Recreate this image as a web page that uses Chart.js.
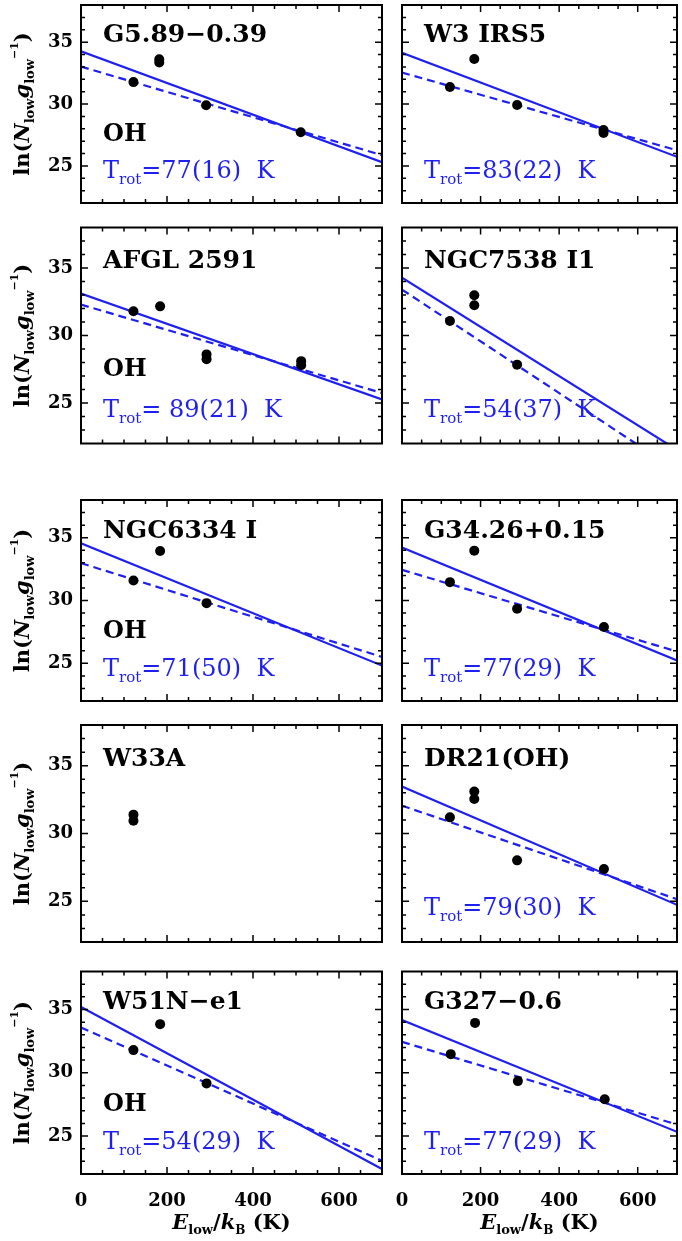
<!DOCTYPE html>
<html>
<head>
<meta charset="utf-8">
<script src="https://cdn.jsdelivr.net/npm/chart.js@4.4.1/dist/chart.umd.min.js"></script>
<style>
  html, body { margin: 0; padding: 0; background: #fff; }
  #wrap { position: relative; width: 682px; height: 1241px; overflow: hidden; }
  #wrap canvas { position: absolute; }
</style>
</head>
<body>
<div id="wrap"></div>
<script>
// sources in reading order (left, right; top to bottom)
const sources = ['G5.89\u22120.39', 'W3 IRS5', 'AFGL 2591', 'NGC7538 I1', 'NGC6334 I',
                 'G34.26+0.15', 'W33A', 'DR21(OH)', 'W51N\u2212e1', 'G327\u22120.6'];
const showOH = [true, false, true, false, true, false, false, false, true, false];
const trot = ['77(16)', '83(22)', ' 89(21)', '54(37)', '71(50)', '77(29)', null, '79(30)', '54(29)', '77(29)'];

// measured points: E_low/k_B (K) and ln(N_low g_low^-1)
const eLow = [
  [122, 182, 182, 291, 511],
  [122, 184, 293, 513, 513],
  [122, 184, 292, 292, 512, 512],
  [122, 184, 184, 293],
  [122, 184, 292],
  [122, 184, 293, 514],
  [122, 122],
  [122, 184, 184, 293, 514],
  [122, 184, 292],
  [124, 186, 295, 516]
];
const lnNg = [
  [31.77, 33.62, 33.35, 29.9, 27.72],
  [31.37, 33.63, 29.92, 27.9, 27.65],
  [31.79, 32.16, 28.6, 28.25, 28.1, 27.8],
  [31.07, 32.98, 32.24, 27.84],
  [31.59, 33.94, 29.79],
  [31.46, 33.97, 29.34, 27.89],
  [31.39, 30.94],
  [31.19, 33.1, 32.54, 28.02, 27.38],
  [31.79, 33.84, 29.16],
  [31.47, 33.94, 29.34, 27.9]
];
// rotation-diagram fits, values at E = 0 and E = 700 K
const fitE = [0, 700];
const fitSolid = [[34.26, 25.29], [34.13, 25.73], [33.1, 25.27], [34.29, 21.53], [34.56, 24.82],
                  [34.21, 25.23], null, [33.47, 24.74], [35.2, 22.4], [34.16, 25.33]];
const fitDashed = [[33.02, 25.87], [32.54, 26.26], [32.29, 25.74], [33.4, 19.99], [32.97, 25.51],
                   [32.44, 25.94], null, [32.05, 25.16], [33.58, 23.05], [32.44, 25.91]];

const xTicks = [0, 200, 400, 600];
const yTicks = [25, 30, 35];

// panel geometry (px)
const rowTop = [1.5, 227.5, 500, 725, 971.5];
const rowBot = [203, 443.5, 701, 942, 1174];
const colLeft = [81, 402];
const colRight = [382, 681];

const BLUE = '#1f1ff0';
const SERIF = '"DejaVu Serif", "Liberation Serif", serif';

function drawRich(ctx, segs, x, y, align) {
  let w = 0;
  segs.forEach(s => { ctx.font = s.f; w += ctx.measureText(s.t).width; });
  let cx = align === 'center' ? x - w / 2 : x;
  segs.forEach(s => {
    ctx.font = s.f;
    ctx.fillText(s.t, cx, y + (s.dy || 0));
    cx += ctx.measureText(s.t).width;
  });
}

// no extra layout padding for overhanging tick labels
function noPad(s) {
  s.paddingTop = 0; s.paddingBottom = 0; s.paddingLeft = 0; s.paddingRight = 0;
}

const idlFrame = {
  id: 'idlFrame',
  afterDraw(chart, args, opts) {
    const { ctx, chartArea: a, scales: { x, y } } = chart;
    const i = opts.idx;
    ctx.save();
    ctx.strokeStyle = '#000';
    ctx.lineWidth = 1.5;
    ctx.beginPath();
    for (let v = 50; v < 700; v += 50) {
      const px = x.getPixelForValue(v), len = v % 200 === 0 ? 7 : 4;
      ctx.moveTo(px, a.bottom); ctx.lineTo(px, a.bottom - len);
      ctx.moveTo(px, a.top); ctx.lineTo(px, a.top + len);
    }
    for (let v = 23; v < 38; v++) {
      const py = y.getPixelForValue(v), len = v % 5 === 0 ? 7 : 4;
      ctx.moveTo(a.left, py); ctx.lineTo(a.left + len, py);
      ctx.moveTo(a.right, py); ctx.lineTo(a.right - len, py);
    }
    ctx.stroke();
    ctx.lineWidth = 2;
    ctx.strokeRect(a.left, a.top, a.right - a.left, a.bottom - a.top);

    ctx.textAlign = 'left';
    ctx.textBaseline = 'alphabetic';
    ctx.fillStyle = '#000';
    const tx = a.left + 22;
    ctx.font = 'bold 25px ' + SERIF;
    ctx.fillText(sources[i], tx, y.getPixelForValue(35));
    if (showOH[i]) {
      ctx.font = 'bold 24px ' + SERIF;
      ctx.fillText('OH', tx, y.getPixelForValue(27));
    }
    if (trot[i]) {
      ctx.fillStyle = BLUE;
      drawRich(ctx, [
        { t: 'T', f: '24px ' + SERIF },
        { t: 'rot', f: '15px ' + SERIF, dy: 6 },
        { t: '=' + trot[i] + '  K', f: '24px ' + SERIF }
      ], tx, y.getPixelForValue(24), 'left');
    }
    ctx.fillStyle = '#000';
    if (opts.left) {
      ctx.save();
      ctx.translate(22, (a.top + a.bottom) / 2);
      ctx.rotate(-Math.PI / 2);
      drawRich(ctx, [
        { t: 'ln(', f: 'bold 21px ' + SERIF },
        { t: 'N', f: 'italic bold 21px ' + SERIF },
        { t: 'low', f: 'bold 13px ' + SERIF, dy: 5 },
        { t: 'g', f: 'italic bold 21px ' + SERIF },
        { t: 'low', f: 'bold 13px ' + SERIF, dy: 5 },
        { t: '\u22121', f: 'bold 11px ' + SERIF, dy: -11 },
        { t: ')', f: 'bold 21px ' + SERIF }
      ], 0, 7, 'center');
      ctx.restore();
    }
    if (opts.bottom) {
      drawRich(ctx, [
        { t: 'E', f: 'italic bold 21px ' + SERIF },
        { t: 'low', f: 'bold 13px ' + SERIF, dy: 5 },
        { t: '/', f: 'bold 21px ' + SERIF },
        { t: 'k', f: 'italic bold 21px ' + SERIF },
        { t: 'B', f: 'bold 12px ' + SERIF, dy: 5 },
        { t: ' (K)', f: 'bold 21px ' + SERIF }
      ], (a.left + a.right) / 2, a.bottom + 55, 'center');
    }
    ctx.restore();
  }
};

const wrap = document.getElementById('wrap');

sources.forEach((name, i) => {
  const row = Math.floor(i / 2), col = i % 2;
  const isLeft = col === 0, isBottom = row === 4;
  const cx0 = isLeft ? 0 : 384;
  const cw = isLeft ? 392 : 682 - cx0;
  const cy0 = Math.max(0, Math.floor(rowTop[row] - 12));
  const cy1 = isBottom ? 1241 : Math.ceil(rowBot[row] + 12);
  const ch = cy1 - cy0;

  const canvas = document.createElement('canvas');
  canvas.width = cw; canvas.height = ch;
  canvas.style.left = cx0 + 'px'; canvas.style.top = cy0 + 'px';
  canvas.style.width = cw + 'px'; canvas.style.height = ch + 'px';
  wrap.appendChild(canvas);

  const pts = eLow[i].map((e, k) => ({ x: e, y: lnNg[i][k] }));
  const datasets = [{
    data: pts, pointRadius: 5, pointHoverRadius: 5, pointBorderWidth: 0,
    backgroundColor: '#000', borderColor: '#000', order: 0
  }];
  if (fitSolid[i]) {
    datasets.push({
      data: fitE.map((e, k) => ({ x: e, y: fitSolid[i][k] })), showLine: true,
      borderColor: BLUE, borderWidth: 2.2, pointRadius: 0, order: 1
    });
    datasets.push({
      data: fitE.map((e, k) => ({ x: e, y: fitDashed[i][k] })), showLine: true,
      borderColor: BLUE, borderWidth: 2.2, borderDash: [8, 5], pointRadius: 0, order: 2
    });
  }

  const tickFont = { family: SERIF, size: 18, weight: 'bold' };
  new Chart(canvas, {
    type: 'scatter',
    data: { datasets },
    options: {
      responsive: false,
      animation: false,
      events: [],
      devicePixelRatio: 1,
      layout: {
        padding: {
          left: isLeft ? 0 : colLeft[1] - cx0,
          right: cx0 + cw - colRight[col],
          top: rowTop[row] - cy0,
          bottom: isBottom ? 0 : cy1 - rowBot[row]
        }
      },
      plugins: {
        legend: { display: false },
        tooltip: { enabled: false },
        idlFrame: { idx: i, left: isLeft, bottom: isBottom }
      },
      scales: {
        x: {
          type: 'linear', min: 0, max: 700,
          display: isBottom,
          grid: { display: false, drawTicks: false },
          border: { display: false },
          afterBuildTicks: s => { s.ticks = xTicks.map(v => ({ value: v })); },
          afterFit: s => { noPad(s); if (isBottom) s.height = cy1 - rowBot[row]; },
          ticks: { font: tickFont, color: '#000', padding: 17, maxRotation: 0, callback: v => String(v) }
        },
        y: {
          type: 'linear', min: 22, max: 38,
          display: isLeft,
          grid: { display: false, drawTicks: false },
          border: { display: false },
          afterBuildTicks: s => { s.ticks = yTicks.map(v => ({ value: v })); },
          afterFit: s => { noPad(s); if (isLeft) s.width = colLeft[0] - cx0; },
          ticks: { font: tickFont, color: '#000', padding: 8, callback: v => String(v) }
        }
      }
    },
    plugins: [idlFrame]
  });
});
</script>
</body>
</html>
